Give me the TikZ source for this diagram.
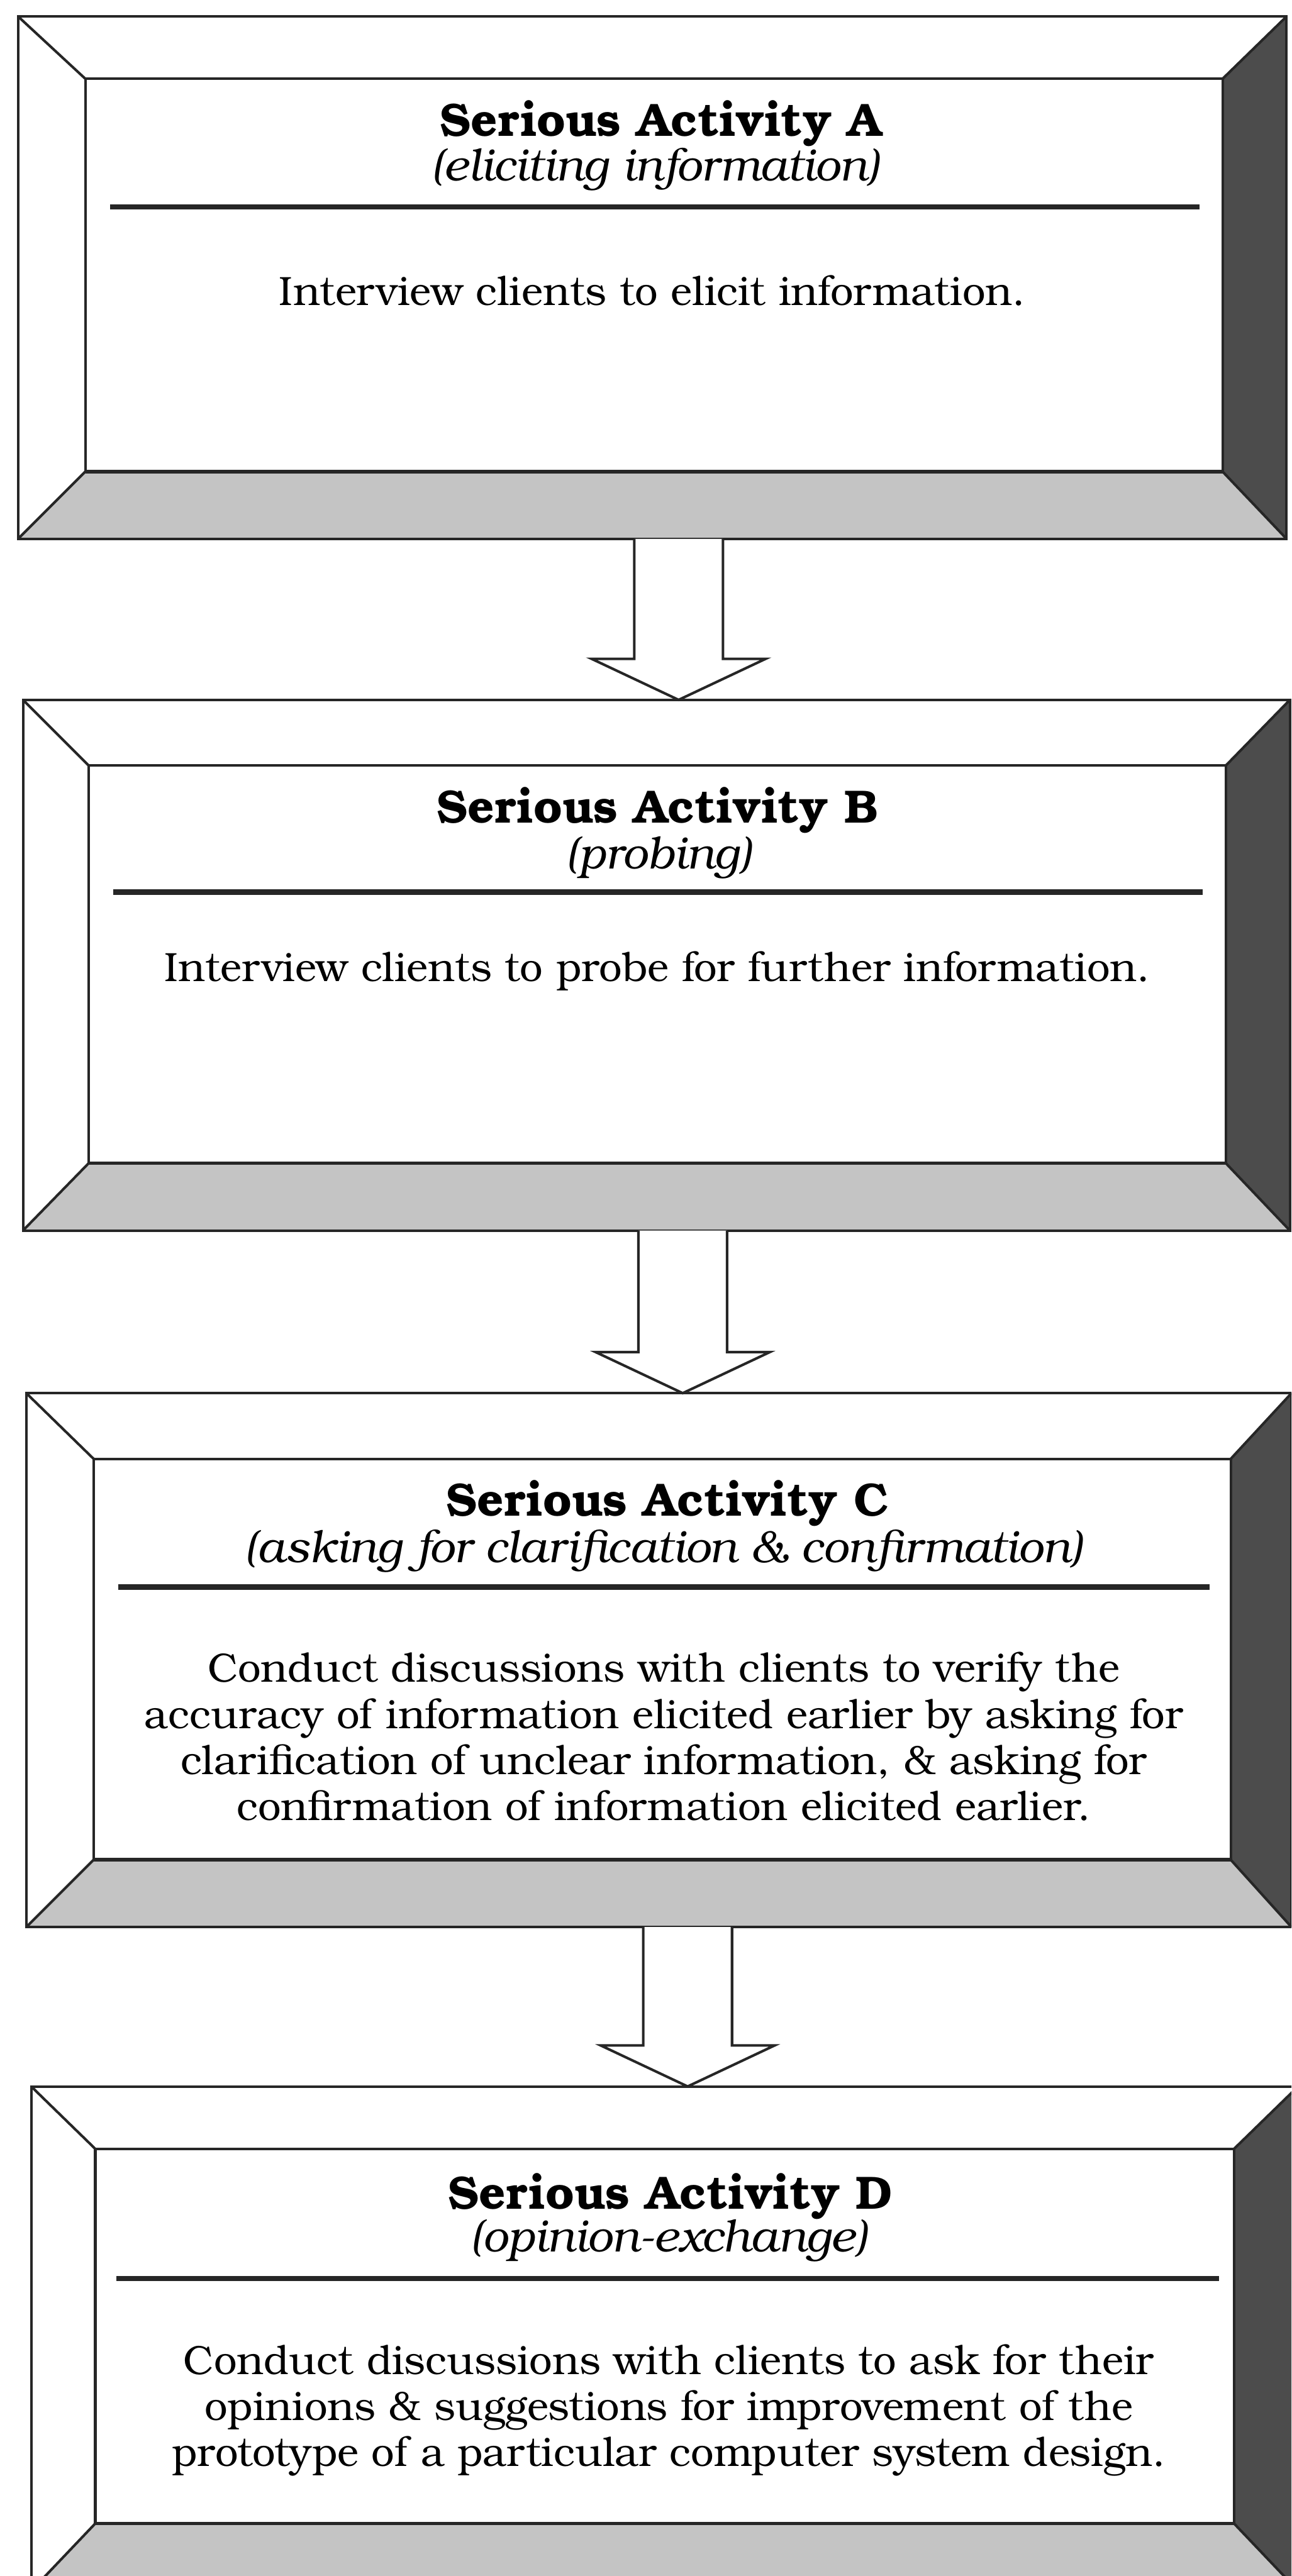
\documentclass[tikz,border=0pt]{standalone}
\usepackage{fontspec}
\setmainfont{TeX Gyre Bonum}
\usetikzlibrary{calc}
\definecolor{bevlight}{gray}{0.77}
\definecolor{bevdark}{gray}{0.30}
\tikzset{
  boxline/.style={draw=black!85, line width=1.1pt, line join=miter},
  rulestyle/.style={draw=black!85, line width=2.2pt},
  arrowline/.style={draw=black!85, line width=1.1pt, fill=white, line join=miter},
  titlestyle/.style={inner sep=0pt, font=\fontsize{20.2}{24}\selectfont\bfseries},
  substyle/.style={inner sep=0pt, font=\fontsize{19.5}{24}\selectfont\itshape},
  bodystyle/.style={inner sep=0pt, align=center, font=\fontsize{17.7}{19.9}\selectfont},
}
% #1 name, #2 L, #3 T, #4 R, #5 B, #6 iL, #7 iT, #8 iR, #9 iB
\newcommand\bevbox[9]{%
  \coordinate (#1-o1) at (#2,#3);
  \coordinate (#1-o2) at (#4,#3);
  \coordinate (#1-o3) at (#4,#5);
  \coordinate (#1-o4) at (#2,#5);
  \coordinate (#1-i1) at (#6,#7);
  \coordinate (#1-i2) at (#8,#7);
  \coordinate (#1-i3) at (#8,#9);
  \coordinate (#1-i4) at (#6,#9);
  \fill[white] (#1-o1) rectangle (#1-o3);
  \fill[bevlight] (#1-o4) -- (#1-o3) -- (#1-i3) -- (#1-i4) -- cycle;
  \fill[bevdark] (#1-o2) -- (#1-o3) -- (#1-i3) -- (#1-i2) -- cycle;
  \draw[boxline] (#1-o1) -- (#1-o2) -- (#1-o3) -- (#1-o4) -- cycle;
  \draw[boxline] (#1-i1) -- (#1-i2) -- (#1-i3) -- (#1-i4) -- cycle;
  \draw[boxline] (#1-o1) -- (#1-i1) (#1-o2) -- (#1-i2) (#1-o3) -- (#1-i3) (#1-o4) -- (#1-i4);
  \draw[boxline, line width=1.6pt] (#1-i4) -- (#1-i3);
}
% block arrow from shaft top (#1) to tip (#2)
\newcommand\blockarrow[2]{%
  \draw[arrowline] ($(#1)+(-27,0)$) -- ($(#2)+(-27,-25)$) -- ($(#2)+(-53,-25)$) -- (#2)
    -- ($(#2)+(53,-25)$) -- ($(#2)+(27,-25)$) -- ($(#1)+(27,0)$);
}
\begin{document}
\begin{tikzpicture}[x=0.025cm, y=-0.025cm]
\useasboundingbox (0,0) rectangle (786,1568);
\clip (0,0) rectangle (786,1568);
\fill[white] (0,0) rectangle (786,1568);

% Box A
\bevbox{A}{11}{10}{783}{328}{52}{48}{744}{287}
\node[titlestyle] (tA) at (402,75) {Serious Activity A};
\node[substyle] (sA) at (399,103) {(eliciting information)};
\draw[rulestyle] (67,126) -- (730,126);
\node[bodystyle] (bA) at (397,177) {Interview clients to elicit information.};

% Box B
\bevbox{B}{14}{426}{785}{749}{54}{466}{746}{708}
\node[titlestyle] (tB) at (400,493) {Serious Activity B};
\node[substyle] (sB) at (401,522) {(probing)};
\draw[rulestyle] (69,543) -- (732,543);
\node[bodystyle] (bB) at (400,591) {Interview clients to probe for further information.};

% Box C
\bevbox{C}{16}{848}{786}{1173}{57}{888}{749}{1132}
\node[titlestyle] (tC) at (406,915) {Serious Activity C};
\node[substyle] (sC) at (404,944) {(asking for clarification \& confirmation)};
\draw[rulestyle] (72,966) -- (736,966);
\node[bodystyle] (bC) at (404,1057) {Conduct discussions with clients to verify the\\accuracy of information elicited earlier by asking for\\clarification of unclear information, \& asking for\\confirmation of information elicited earlier.};

% Box D
\bevbox{D}{19}{1270}{790}{1577}{58}{1308}{751}{1536}
\node[titlestyle] (tD) at (408,1337) {Serious Activity D};
\node[substyle] (sD) at (407,1364) {(opinion-exchange)};
\draw[rulestyle] (71,1387) -- (742,1387);
\node[bodystyle] (bD) at (407,1467) {Conduct discussions with clients to ask for their\\opinions \& suggestions for improvement of the\\prototype of a particular computer system design.};

% Arrows
\coordinate (A-out) at (413,328);
\coordinate (B-in) at (413,426);
\coordinate (B-out) at (415.5,749);
\coordinate (C-in) at (415.5,848);
\coordinate (C-out) at (418.5,1173);
\coordinate (D-in) at (418.5,1270);
\blockarrow{A-out}{B-in}
\blockarrow{B-out}{C-in}
\blockarrow{C-out}{D-in}
\end{tikzpicture}
\end{document}
